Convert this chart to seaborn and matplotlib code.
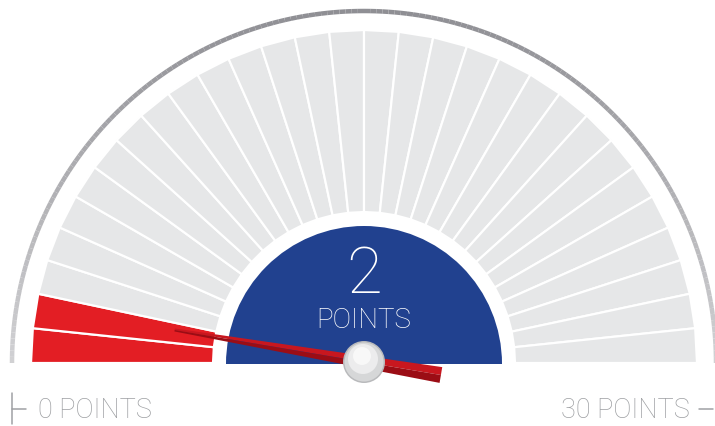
import numpy as np
import matplotlib.pyplot as plt
import seaborn as sns
from matplotlib.patches import Polygon, Circle, Wedge
from matplotlib.collections import LineCollection

# %%
score = 2
max_score = 30
needle_reading = 1.6          # where the needle visually sits
score_label = "2"
unit_label = "POINTS"
min_label = "0 POINTS"
max_label = "30 POINTS"

grey = "#e6e7e8"
red = "#e31e24"
blue = "#21418f"
label_grey = "#9d9fa2"

sns.set_theme(style="white")
plt.rcParams["font.family"] = ["Roboto", "DejaVu Sans"]

# %%
W, H = 715, 427
fig = plt.figure(figsize=(W / 100, H / 100), dpi=100)
ax = fig.add_axes([0, 0, 1, 1])
ax.set_xlim(0, W)
ax.set_ylim(H, 0)
ax.axis("off")

cx, cy = 364, 364
r_in, r_out = 151, 333
px = 0.72  # points per pixel


def pt(r, deg):
    # deg measured from the left end (0) clockwise over the top to the right (180)
    a = np.deg2rad(180 - deg)
    return cx + r * np.cos(a), cy - r * np.sin(a)


# outer grey ring, darker at the top and fading at the ends
angs = np.linspace(0, 180, 181)
ring = np.array([pt(352, a) for a in angs])
segs = np.stack([ring[:-1], ring[1:]], axis=1)
shade = np.sin(np.deg2rad(angs[:-1] + 0.5))
cols = [(0.56 + 0.26 * (1 - s), 0.56 + 0.26 * (1 - s), 0.58 + 0.25 * (1 - s)) for s in shade]
ax.add_collection(LineCollection(segs, colors=cols, linewidths=4.5 * px, capstyle="butt"))

# gauge segments
step = 180 / max_score
for i in range(max_score):
    a0, a1 = i * step, (i + 1) * step
    poly = [pt(r_in, a0), pt(r_out, a0), pt(r_out, a1), pt(r_in, a1)]
    color = red if i < score else grey
    ax.add_patch(Polygon(poly, closed=True, facecolor=color, edgecolor="white",
                         linewidth=2.2 * px, joinstyle="miter"))
# clean baseline
ax.add_patch(plt.Rectangle((0, cy), W, 6, facecolor="white", edgecolor="none", zorder=2))

# blue centre (y axis is inverted, so the upper half is 180..360)
ax.add_patch(Wedge((cx, cy + 1), 138, 180, 360, facecolor=blue, edgecolor="none", zorder=3))
ax.text(cx, 275, score_label, color="white", fontsize=47, fontweight="light",
        ha="center", va="center", zorder=4)
ax.text(cx, 321, unit_label, color="white", fontsize=20, fontweight="light",
        ha="center", va="center", zorder=4)

# needle
th = np.deg2rad(needle_reading / max_score * 180)
d = np.array([-np.cos(th), -np.sin(th)])
n = np.array([np.sin(th), -np.cos(th)])
c = np.array([cx, cy - 1])
tip = c + 192 * d
tail = c - 78 * d
w_tip, w_tail = 1.5, 8
upper = [tip + w_tip * n, tail + w_tail * n, tail, tip]
lower = [tip, tail, tail - w_tail * n, tip - w_tip * n]
ax.add_patch(Polygon(upper, closed=True, facecolor="#c8171f", edgecolor="none", zorder=5))
ax.add_patch(Polygon(lower, closed=True, facecolor="#9b0d15", edgecolor="none", zorder=5))

# knob
ax.add_patch(Circle((cx, cy - 1), 21, facecolor="#b9babc", edgecolor="none", zorder=6))
ax.add_patch(Circle((cx, cy - 1), 19.5, facecolor="#d6d7d8", edgecolor="none", zorder=6))
ax.add_patch(Circle((cx - 1, cy - 4), 15, facecolor="#ececed", edgecolor="none", zorder=6))
ax.add_patch(Circle((cx - 2, cy - 7), 9, facecolor="#f8f8f8", edgecolor="none", zorder=6))

# bottom labels
ax.plot([12, 12], [394, 425], color=label_grey, lw=1.5 * px)
ax.plot([12, 26], [410, 410], color=label_grey, lw=1.5 * px)
ax.text(38, 411, min_label, color=label_grey, fontsize=19.5, fontweight="light",
        ha="left", va="center")
ax.plot([699, 713], [410, 410], color=label_grey, lw=1.5 * px)
ax.text(690, 411, max_label, color=label_grey, fontsize=19.5, fontweight="light",
        ha="right", va="center")

fig.savefig("out.png", dpi=100)
